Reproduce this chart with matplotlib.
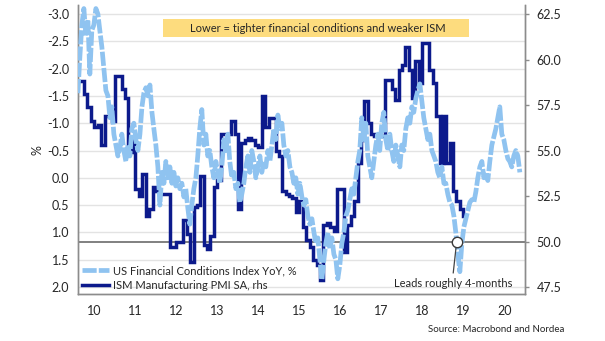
import numpy as np
import pandas as pd
import matplotlib
matplotlib.use("Agg")
import matplotlib.pyplot as plt
from matplotlib.patches import Rectangle
from matplotlib.transforms import blended_transform_factory

plt.rcParams["font.family"] = ["Lato", "DejaVu Sans"]

# ---- data -------------------------------------------------------------
# US Financial Conditions Index, YoY change (%), plotted with a forward lead
fci_start, fci_end = "2010-02-05", "2020-11-16"
fci = [
    -1.55, -2.2, -2.8, -3.1, -2.6, -2.9, -1.9, -2.7, -2.8, -3.1, -3.0, -2.7,
    -2.4, -2.0, -1.6, -1.5, -1.1, -1.3, -0.8, -0.6, -0.4, -0.55, -0.8, -0.5,
    -0.3, -0.6, -0.4, -0.9, -1.0, -0.7, -0.5, -0.8, -1.3, -1.55, -1.65, -1.5,
    -1.7, -1.2, -0.9, -0.6, -0.2, 0.5, -0.1, 0.1, -0.3, 0.0, -0.2, 0.1,
    -0.1, 0.15, 0.0, 0.2, 0.1, 0.35, 0.2, 0.55, 0.85, 0.5, 0.2, 0.0,
    -0.4, -0.9, -1.25, -0.6, -0.8, -0.4, -0.5, -0.2, 0.0, -0.3, -0.1, 0.1,
    -0.2, -0.7, -0.5, -0.8, -0.3, 0.0, -0.1, 0.2, 0.1, 0.45, 0.3, 0.1,
    -0.2, -0.4, -0.1, -0.5, -0.3, 0.0, -0.2, -0.4, -0.1, -0.3, -0.2, -0.5,
    -0.3, -0.6, -0.9, -0.7, -1.15, -0.9, -1.0, -0.6, -0.4, -0.5, -0.2, -0.1,
    0.1, 0.0, 0.3, 0.1, 0.35, 0.5, 0.4, 0.7, 0.85, 0.75, 1.0, 1.2,
    1.1, 1.5, 1.87, 1.5, 1.2, 1.0, 1.3, 1.1, 1.4, 1.5, 1.85, 1.6,
    1.2, 1.0, 0.7, 0.6, 0.4, 0.2, 0.3, 0.0, -0.3, -0.5, -1.1, -0.7,
    -1.0, -0.4, -0.2, 0.0, -0.3, -0.6, -0.8, -0.5, -1.0, -1.2, -0.7, -0.5,
    -0.8, -0.5, -0.3, -0.6, -0.4, -0.2, -0.6, -0.5, -0.9, -1.1, -1.0, -1.3,
    -1.2, -1.45, -1.6, -1.72, -1.4, -1.1, -0.9, -0.7, -0.8, -0.5, -0.4, -0.3,
    -0.1, 0.0, -0.2, 0.1, 0.1, 0.3, 0.45, 0.5, 0.7, 1.0, 1.4, 1.72,
    1.2, 0.9, 0.75, 0.6, 0.45, 0.4, 0.45, 0.25, 0.0, -0.2, -0.3, 0.0,
    -0.1, 0.05, -0.3, -0.6, -0.75, -0.9, -1.1, -1.3, -0.8, -0.7, -0.5, -0.35,
    -0.3, -0.2, -0.4, -0.5, -0.4, -0.1,
]

# ISM Manufacturing PMI, seasonally adjusted, monthly from March 2010
ism_start, ism_end = "2010-03", "2019-07"
ism = [
    58.8, 58.1, 57.4, 56.6, 56.3, 56.4, 55.3, 56.9, 56.9, 56.6,
    59.1, 59.1, 58.4, 57.9, 54.9, 55.7, 52.9, 52.5, 53.7, 51.4, 51.8, 53.0,
    52.8, 52.6, 52.6, 52.6, 49.7, 49.7, 50.0, 50.0, 51.2, 50.4, 48.9, 51.9,
    52.0, 53.6, 49.8, 49.6, 50.3, 53.0, 53.4, 55.9, 55.9, 55.9, 56.6, 55.9,
    51.8, 55.4, 55.6, 55.7, 55.6, 55.3, 55.2, 58.0, 56.3, 56.8, 56.8, 55.0,
    54.7, 52.8, 52.6, 52.5, 52.4, 51.6, 52.2, 50.8, 50.1, 49.7, 49.0, 48.7,
    47.9, 50.9, 51.0, 50.8, 50.6, 52.9, 52.9, 49.4, 50.9, 51.4, 52.2, 54.3,
    55.6, 57.7, 56.5, 55.9, 55.8, 55.8, 55.8, 58.9, 58.9, 58.4, 57.8, 59.4,
    59.7, 60.7, 59.4, 57.9, 59.9, 58.7, 60.9, 60.9, 59.4, 58.7, 56.9, 54.3,
    56.9, 54.3, 55.4, 52.8, 52.2, 51.8, 51.4,
]

year_labels = ["10", "11", "12", "13", "14", "15", "16", "17", "18", "19", "20"]
left_ticks = [-3.0, -2.5, -2.0, -1.5, -1.0, -0.5, 0.0, 0.5, 1.0, 1.5, 2.0]
right_ticks = [47.5, 50.0, 52.5, 55.0, 57.5, 60.0, 62.5]

title_text = "Lower = tighter financial conditions and weaker ISM"
fci_label = "US Financial Conditions Index YoY, %"
ism_label = "ISM Manufacturing PMI SA, rhs"
note_text = "Leads roughly 4-months"
source_text = "Source: Macrobond and Nordea"


def decimal_year(idx):
    idx = pd.DatetimeIndex(idx)
    days = np.where(idx.is_leap_year, 366.0, 365.0)
    return idx.year + (idx.dayofyear - 1) / days


fci_t = decimal_year(pd.date_range(fci_start, fci_end, periods=len(fci)))
ism_t = decimal_year(pd.period_range(ism_start, ism_end, freq="M").to_timestamp())

# ---- figure -----------------------------------------------------------
W, H = 605, 341
fig = plt.figure(figsize=(W / 100, H / 100), dpi=100)
fig.patch.set_facecolor("white")

ax = fig.add_axes([78 / W, 1 - 294 / H, (525 - 78) / W, (294 - 5) / H])
ax2 = ax.twinx()
ax.set_zorder(2)
ax2.set_zorder(1)
ax.patch.set_visible(False)

light = "#8fc3f0"
navy = "#0c1a8c"
axis_grey = "#8c8c8c"
text_col = "#262626"

x0, x1 = 2010.098, 2021.0
ax.set_xlim(x0, x1)
ax.set_ylim(2.128, -3.165)
ax2.set_ylim(47.116, 62.995)

# horizontal grid on the lower axes, following the left scale
grid_tr = blended_transform_factory(ax2.transAxes, ax.transData)
for v in left_ticks:
    ax2.plot([0, 1], [v, v], transform=grid_tr, color="#e3e3e3", lw=1.0, zorder=0.5)

# ISM line and the 50 threshold on the right scale
ax2.axhline(50, color="#6b6b6b", lw=1.2, zorder=1)
ism_line, = ax2.plot(ism_t, ism, drawstyle="steps-post", color=navy, lw=2.5,
                     solid_joinstyle="miter", zorder=2, label=ism_label)

# FCI on the left (inverted) scale
fci_line, = ax.plot(fci_t, fci, color=light, lw=3.4, linestyle=(0, (3.0, 0.45)),
                    dash_joinstyle="round", dash_capstyle="butt", zorder=3,
                    label=fci_label)

# lead annotation
lead_x = 2019.34
lead_y = (53.5 - 50.0) / 3.0
ax.plot([lead_x - 0.015, lead_x - 0.09], [lead_y + 0.06, 1.74], color="#444444", lw=0.9, zorder=4)
ax.plot([lead_x], [lead_y], marker="o", ms=7.5, mfc="white", mec="#3a3a3a", mew=1.0, zorder=5)
ax.text(2019.26, 1.93, note_text, ha="center", va="center", fontsize=8, color=text_col, zorder=6)

# axes styling
for a in (ax, ax2):
    a.spines["top"].set_visible(False)
    for side in ("left", "right", "bottom"):
        a.spines[side].set_color(axis_grey)
        a.spines[side].set_linewidth(1.0)

ax.set_yticks(left_ticks)
ax.set_yticklabels([f"{v:.1f}" for v in left_ticks])
ax.tick_params(axis="y", length=0, pad=6.5, labelsize=9, labelcolor=text_col)

ax2.set_yticks(right_ticks)
ax2.set_yticklabels([f"{v:.1f}" for v in right_ticks])
ax2.tick_params(axis="y", length=3, width=1, color=axis_grey, pad=5.5,
                labelsize=9, labelcolor=text_col)

years = np.arange(2011, 2021)
ax.set_xticks(years)
ax.set_xticklabels([])
ax.set_xticks(np.arange(2010, 2021) + 0.5, minor=True)
ax.set_xticklabels(year_labels, minor=True)
ax.tick_params(axis="x", which="major", length=3.5, width=1, color=axis_grey, direction="out")
ax.tick_params(axis="x", which="minor", length=0, pad=8, labelsize=9, labelcolor=text_col)
ax2.set_xticks([])

# legend
leg = ax.legend(handles=[fci_line, ism_line], loc="lower left",
                bbox_to_anchor=(4 / 447, 3 / 289), frameon=False, fontsize=8,
                handlelength=2.45, handletextpad=0.3, labelspacing=0.35,
                borderpad=0, borderaxespad=0)
for t in leg.get_texts():
    t.set_color(text_col)

# headline box
fig.patches.append(Rectangle((163 / W, 1 - 37 / H), 306 / W, 18 / H,
                             transform=fig.transFigure, facecolor="#fddc7e",
                             edgecolor="none", zorder=0))
fig.text(318 / W, 1 - 28 / H, title_text, ha="center", va="center",
         fontsize=8, color=text_col)

fig.text(37 / W, 1 - 150 / H, "%", rotation=90, ha="center", va="center",
         fontsize=9, color=text_col)
fig.text(428 / W, 1 - 329 / H, source_text, ha="left", va="center",
         fontsize=7, color=text_col)

fig.savefig("out.png", dpi=100, facecolor="white")
